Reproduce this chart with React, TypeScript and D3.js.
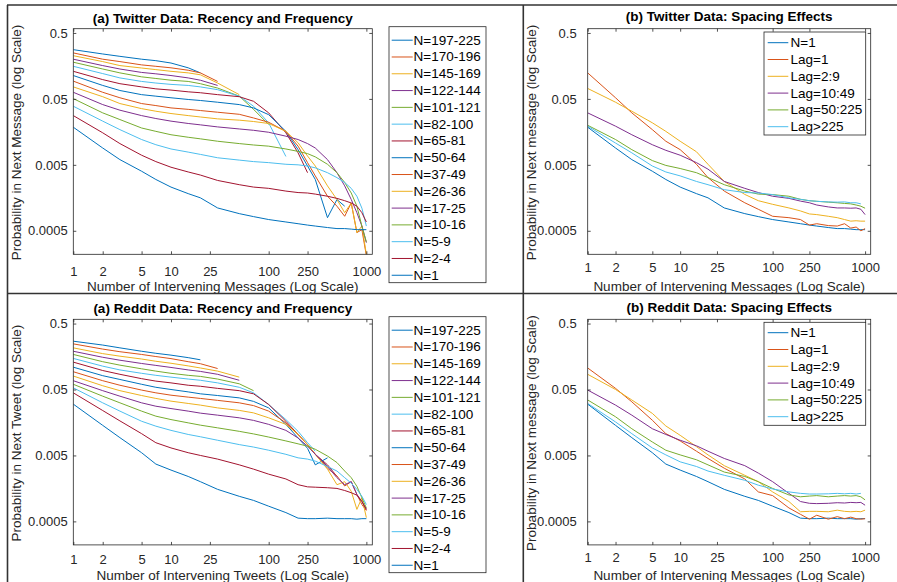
import React, { useRef, useEffect } from "react";
import * as d3 from "d3";

const FONT = "'Liberation Sans', Arial, Helvetica, sans-serif";
const W = 897;
const H = 582;

// x positions shared by every curve (number of intervening messages)
const xGrid = [1, 2, 3, 5, 7, 10, 15, 20, 30, 50, 70, 100, 150, 200, 250, 300, 400, 500, 600, 700, 800, 900, 1000];
const xTicks = [1, 2, 5, 10, 25, 100, 250, 1000];
const yTicks = [0.5, 0.05, 0.005, 0.0005];
const xDomain = [1, 1150];
const yDomain = [0.00022, 0.58];

const recencyLabels = [
  "N=197-225", "N=170-196", "N=145-169", "N=122-144", "N=101-121",
  "N=82-100", "N=65-81", "N=50-64", "N=37-49", "N=26-36",
  "N=17-25", "N=10-16", "N=5-9", "N=2-4", "N=1",
];
const spacingLabels = ["N=1", "Lag=1", "Lag=2:9", "Lag=10:49", "Lag=50:225", "Lag>225"];

// Twitter: recency and frequency (curves stop where the data stops)
const twN197 = [0.279, 0.24, 0.221, 0.2, 0.19, 0.175, 0.148, 0.124];
const twN170 = [0.249, 0.2, 0.184, 0.164, 0.156, 0.148, 0.136, 0.124, 0.092];
const twN145 = [0.226, 0.184, 0.16, 0.147, 0.139, 0.131, 0.124, 0.116, 0.087, 0.058];
const twN122 = [0.2, 0.16, 0.142, 0.126, 0.12, 0.113, 0.104, 0.096, 0.08];
const twN101 = [0.18, 0.142, 0.124, 0.108, 0.102, 0.096, 0.092, 0.085, 0.073, 0.055, 0.0347, 0.0204];
const twN82 = [0.156, 0.121, 0.104, 0.092, 0.087, 0.083, 0.08, 0.076, 0.069, 0.055, 0.0387, 0.0216, 0.0067];
const twN65 = [0.131, 0.098, 0.085, 0.076, 0.071, 0.068, 0.064, 0.062, 0.058, 0.054, 0.046, 0.0307, 0.0153, 0.0076, 0.0038];
const twN50 = [0.113, 0.08, 0.067, 0.058, 0.055, 0.052, 0.049, 0.0473, 0.0445, 0.041, 0.0365, 0.0288, 0.0161, 0.0085, 0.0048, 0.003, 0.00079, 0.00149, 0.00118];
const twN37 = [0.093, 0.063, 0.052, 0.0425, 0.0396, 0.0365, 0.0347, 0.0333, 0.0314, 0.0292, 0.0257, 0.0221, 0.0161, 0.0096, 0.0054, 0.0034, 0.00167, 0.00118, 0.00083, 0.00132, 0.00047, 0.00052, 0.00021];
const twN26 = [0.076, 0.054, 0.0425, 0.0356, 0.0325, 0.03, 0.0279, 0.0266, 0.0249, 0.0238, 0.0227, 0.0212, 0.0161, 0.0108, 0.0068, 0.0048, 0.0024, 0.00149, 0.00094, 0.00132, 0.00047, 0.00059, 0.00022];
const twN17 = [0.063, 0.041, 0.0337, 0.0279, 0.0252, 0.023, 0.0212, 0.0202, 0.0188, 0.0175, 0.0167, 0.0156, 0.0136, 0.0121, 0.0105, 0.009, 0.006, 0.0038, 0.0024, 0.00149, 0.00094, 0.00059, 0.00033];
const twN10 = [0.0505, 0.0307, 0.0243, 0.0181, 0.0161, 0.0143, 0.0131, 0.0124, 0.0114, 0.0105, 0.01, 0.0096, 0.0087, 0.008, 0.0074, 0.0066, 0.0051, 0.0038, 0.0027, 0.00187, 0.00118, 0.00059, 0.00034];
const twN5 = [0.0387, 0.023, 0.0171, 0.0121, 0.0101, 0.0087, 0.0078, 0.0072, 0.0064, 0.0059, 0.0056, 0.0054, 0.0051, 0.005, 0.0048, 0.0045, 0.0038, 0.0032, 0.0027, 0.0022, 0.00167, 0.0011, 0.00059];
const twN2 = [0.0279, 0.0153, 0.0105, 0.007, 0.0056, 0.0046, 0.0039, 0.0035, 0.0029, 0.0025, 0.0023, 0.0022, 0.002, 0.0019, 0.00187, 0.0018, 0.00167, 0.00155, 0.00143, 0.00132, 0.00118, 0.00094, 0.00068];
const twN1 = [0.0186, 0.009, 0.006, 0.004, 0.003, 0.0023, 0.00183, 0.00158, 0.00111, 0.00091, 0.00082, 0.00074, 0.00068, 0.00064, 0.00061, 0.00059, 0.00056, 0.00054, 0.00054, 0.00053, 0.00052, 0.00052, 0.00052];

// Reddit: recency and frequency
const rdN197 = [0.27, 0.236, 0.214, 0.19, 0.177, 0.166, 0.152, 0.141];
const rdN170 = [0.246, 0.205, 0.187, 0.17, 0.158, 0.147, 0.132, 0.123, 0.104];
const rdN145 = [0.214, 0.175, 0.16, 0.145, 0.134, 0.125, 0.114, 0.106, 0.095, 0.077];
const rdN122 = [0.19, 0.154, 0.139, 0.124, 0.116, 0.108, 0.099, 0.094, 0.085, 0.069];
const rdN101 = [0.17, 0.132, 0.117, 0.103, 0.095, 0.088, 0.082, 0.079, 0.072, 0.061, 0.048];
const rdN82 = [0.148, 0.113, 0.099, 0.088, 0.082, 0.077, 0.072, 0.069, 0.063, 0.054, 0.0445, 0.0296, 0.0175, 0.0116, 0.0078, 0.0058];
const rdN65 = [0.13, 0.097, 0.085, 0.073, 0.067, 0.063, 0.058, 0.056, 0.052, 0.048, 0.043, 0.0296, 0.0165, 0.0104, 0.0073, 0.0052, 0.0036, 0.0024];
const rdN50 = [0.109, 0.081, 0.071, 0.06, 0.054, 0.05, 0.046, 0.043, 0.0405, 0.0373, 0.033, 0.0263, 0.0148, 0.0092, 0.0064, 0.0036, 0.0046];
const rdN37 = [0.093, 0.068, 0.058, 0.049, 0.0445, 0.041, 0.0383, 0.0366, 0.0342, 0.0314, 0.0285, 0.0235, 0.0156, 0.0104, 0.0073, 0.0052, 0.0032, 0.00244, 0.00172, 0.002, 0.00128, 0.0009, 0.00073];
const rdN26 = [0.08, 0.057, 0.048, 0.0405, 0.0366, 0.0333, 0.0307, 0.029, 0.0263, 0.0241, 0.0221, 0.0186, 0.0148, 0.0104, 0.0073, 0.0052, 0.0031, 0.0018, 0.002, 0.00143, 0.00076, 0.00114, 0.00057];
const rdN17 = [0.068, 0.048, 0.0396, 0.0314, 0.0279, 0.0257, 0.0235, 0.0219, 0.0204, 0.0186, 0.017, 0.0148, 0.012, 0.0092, 0.0069, 0.0052, 0.0034, 0.0023, 0.0018, 0.002, 0.00128, 0.001, 0.00076];
const rdN10 = [0.06, 0.0396, 0.0314, 0.0235, 0.0197, 0.0175, 0.0156, 0.0144, 0.0131, 0.0116, 0.0106, 0.0095, 0.0083, 0.0075, 0.0069, 0.0062, 0.0049, 0.0039, 0.0029, 0.0023, 0.0017, 0.00114, 0.0008];
const rdN5 = [0.053, 0.0314, 0.0235, 0.0165, 0.0139, 0.012, 0.0104, 0.0096, 0.0085, 0.0073, 0.0067, 0.006, 0.0052, 0.0046, 0.0044, 0.0041, 0.0034, 0.0029, 0.0023, 0.0019, 0.00153, 0.0012, 0.0009];
const rdN2 = [0.0445, 0.024, 0.0167, 0.0107, 0.0078, 0.0065, 0.0055, 0.005, 0.0044, 0.0036, 0.0031, 0.0026, 0.0022, 0.0018, 0.00167, 0.00165, 0.00162, 0.00158, 0.00147, 0.00136, 0.00125, 0.001, 0.00076];
const rdN1 = [0.03, 0.0143, 0.0093, 0.0055, 0.0037, 0.003, 0.0024, 0.002, 0.00153, 0.0012, 0.00104, 0.00085, 0.00068, 0.00056, 0.00055, 0.00055, 0.00056, 0.00055, 0.00055, 0.00055, 0.00054, 0.00055, 0.00055];

// Twitter: spacing effects
const twLag1 = [0.124, 0.052, 0.0307, 0.0171, 0.0114, 0.0085, 0.0051, 0.0032, 0.002, 0.00133, 0.00106, 0.00083, 0.00079, 0.00074, 0.00061, 0.00064, 0.0006, 0.00059, 0.00064, 0.00055, 0.00057, 0.0005, 0.00054];
const twLag2 = [0.072, 0.0445, 0.0325, 0.0217, 0.0161, 0.0114, 0.0079, 0.0051, 0.0028, 0.00178, 0.00143, 0.00126, 0.00111, 0.001, 0.0009, 0.00088, 0.00083, 0.00079, 0.00074, 0.0007, 0.00071, 0.0007, 0.0007];
const twLag10 = [0.0307, 0.0193, 0.0143, 0.0101, 0.0083, 0.007, 0.0054, 0.0043, 0.0028, 0.0022, 0.0019, 0.00167, 0.00155, 0.00141, 0.00133, 0.00123, 0.00115, 0.00111, 0.00111, 0.0011, 0.00111, 0.00106, 0.00088];
const twLag50 = [0.0199, 0.0121, 0.0085, 0.0058, 0.0049, 0.0044, 0.0038, 0.0032, 0.0025, 0.002, 0.0018, 0.00177, 0.00167, 0.0015, 0.00143, 0.0014, 0.00136, 0.00133, 0.0013, 0.00128, 0.00123, 0.00118, 0.0011];
const twLag225 = [0.0193, 0.0107, 0.0076, 0.0048, 0.0039, 0.0034, 0.0028, 0.0025, 0.0021, 0.0019, 0.00187, 0.00177, 0.00158, 0.0015, 0.00143, 0.0014, 0.00137, 0.00136, 0.00137, 0.00133, 0.00133, 0.00128];

// Reddit: spacing effects
const rdLag1 = [0.106, 0.052, 0.0325, 0.0171, 0.0107, 0.0083, 0.0058, 0.0045, 0.0032, 0.0022, 0.0014, 0.00123, 0.0008, 0.00064, 0.00054, 0.00062, 0.00054, 0.00059, 0.00055, 0.00058, 0.00055, 0.00054, 0.00055];
const rdLag2 = [0.085, 0.05, 0.0347, 0.0217, 0.014, 0.0101, 0.0068, 0.0051, 0.0035, 0.0025, 0.002, 0.0014, 0.001, 0.0007, 0.00071, 0.00071, 0.0007, 0.00074, 0.00071, 0.0007, 0.00071, 0.0007, 0.00074];
const rdLag10 = [0.049, 0.029, 0.0204, 0.0127, 0.0104, 0.0085, 0.007, 0.0058, 0.0045, 0.0035, 0.0027, 0.002, 0.00133, 0.001, 0.00094, 0.00093, 0.00094, 0.00096, 0.00095, 0.00097, 0.00096, 0.00097, 0.00088];
const rdLag50 = [0.0347, 0.0193, 0.0127, 0.008, 0.006, 0.0051, 0.0043, 0.0036, 0.0028, 0.0024, 0.002, 0.00158, 0.00126, 0.00118, 0.00121, 0.00123, 0.00118, 0.00121, 0.00123, 0.00121, 0.00123, 0.00118, 0.00106];
const rdLag225 = [0.0307, 0.0161, 0.0107, 0.0065, 0.0051, 0.004, 0.0034, 0.0029, 0.0025, 0.0021, 0.00177, 0.00155, 0.0014, 0.00133, 0.0013, 0.0013, 0.00131, 0.00133, 0.00131, 0.00133, 0.0013, 0.00133];

const twitterRecency = [twN197, twN170, twN145, twN122, twN101, twN82, twN65, twN50, twN37, twN26, twN17, twN10, twN5, twN2, twN1];
const redditRecency = [rdN197, rdN170, rdN145, rdN122, rdN101, rdN82, rdN65, rdN50, rdN37, rdN26, rdN17, rdN10, rdN5, rdN2, rdN1];
const twitterSpacing = [twN1, twLag1, twLag2, twLag10, twLag50, twLag225];
const redditSpacing = [rdN1, rdLag1, rdLag2, rdLag10, rdLag50, rdLag225];

// matlab default line colours
const colors = ["#0072BD", "#D95319", "#EDB120", "#7E2F8E", "#77AC30", "#4DBEEE", "#A2142F"];

const recencyLegend = { x: 389, w: 97, h: 256, step: 16.79, l0: 391.7, l1: 412.7, tx: 413.5 };
const spacingLegend = { x: 764, w: 101.7, h: 103, step: 16.8, l0: 767.7, l1: 788.3, tx: 790.5 };

export default function App() {
  const ref = useRef<SVGSVGElement>(null);

  useEffect(() => {
    const svg = d3.select(ref.current);
    svg.selectAll("*").remove();
    svg.append("rect").attr("width", W).attr("height", H).attr("fill", "white");
    const defs = svg.append("defs");
    // the upper figures get cut off by the frame line under them
    defs.append("clipPath").attr("id", "top-half")
      .append("rect").attr("x", 0).attr("y", 0).attr("width", W).attr("height", 293);

    const panels = [
      {
        id: "tl", x0: 73.3, x1: 372.3, y0: 28.7, y1: 254.3, clipTop: true,
        title: "(a) Twitter Data: Recency and Frequency", titleY: 18,
        yLabel: "Probability in Next Message (log Scale)", yLabelX: 16,
        xLabel: "Number of Intervening Messages (Log Scale)", xLabelY: 286.5,
        xPad: 12.9, yPad: 5.6, series: twitterRecency, labels: recencyLabels,
        legend: { ...recencyLegend, y: 26.7, first: 40.2 },
      },
      {
        id: "tr", x0: 587.7, x1: 870.7, y0: 28.7, y1: 254.3, clipTop: true,
        title: "(b) Twitter Data: Spacing Effects", titleY: 16.7,
        yLabel: "Probability in Next message (log Scale)", yLabelX: 531.7,
        xLabel: "Number of Intervening Messages (Log Scale)", xLabelY: 286,
        xPad: 8, yPad: 11, series: twitterSpacing, labels: spacingLabels,
        legend: { ...spacingLegend, y: 32, first: 42.7 },
      },
      {
        id: "bl", x0: 73.3, x1: 372.3, y0: 319.3, y1: 544.9, clipTop: false,
        title: "(a) Reddit Data: Recency and Frequency", titleY: 308.3,
        yLabel: "Probability in Next Tweet (log Scale)", yLabelX: 16,
        xLabel: "Number of Intervening Tweets (Log Scale)", xLabelY: 575.5,
        xPad: 9.5, yPad: 5.6, series: redditRecency, labels: recencyLabels,
        legend: { ...recencyLegend, y: 316.7, first: 330.2 },
      },
      {
        id: "br", x0: 587.7, x1: 870.7, y0: 319.3, y1: 544.9, clipTop: false,
        title: "(b) Reddit Data: Spacing Effects", titleY: 307.3,
        yLabel: "Probability in Next message (log Scale)", yLabelX: 531.7,
        xLabel: "Number of Intervening Messages (Log Scale)", xLabelY: 575.5,
        xPad: 8, yPad: 11, series: redditSpacing, labels: spacingLabels,
        legend: { ...spacingLegend, y: 322.3, first: 332.7 },
      },
    ];

    panels.forEach((p) => {
      const g = svg.append("g")
        .attr("font-family", FONT)
        .attr("clip-path", p.clipTop ? "url(#top-half)" : null);

      const x = d3.scaleLog().domain(xDomain).range([p.x0, p.x1]);
      const y = d3.scaleLog().domain(yDomain).range([p.y1, p.y0]);

      defs.append("clipPath").attr("id", `plot-${p.id}`)
        .append("rect")
        .attr("x", p.x0).attr("y", p.y0)
        .attr("width", p.x1 - p.x0).attr("height", p.y1 - p.y0);

      // curves
      const line = d3.line<number>()
        .x((_, i) => x(xGrid[i]))
        .y((d) => y(d));

      g.append("g")
        .attr("clip-path", `url(#plot-${p.id})`)
        .selectAll("path")
        .data(p.series)
        .join("path")
        .attr("d", (d) => line(d))
        .attr("fill", "none")
        .attr("stroke", (_, i) => colors[i % 7])
        .attr("stroke-width", 1);

      // axes box
      g.append("rect")
        .attr("x", p.x0).attr("y", p.y0)
        .attr("width", p.x1 - p.x0).attr("height", p.y1 - p.y0)
        .attr("fill", "none")
        .attr("stroke", "#262626")
        .attr("stroke-width", 0.8);

      const styleAxis = (a: any, size: number) => {
        a.select(".domain").remove();
        a.attr("font-size", size).attr("font-family", FONT);
        a.selectAll("line").attr("stroke", "#262626").attr("stroke-width", 0.8);
        a.selectAll("text").attr("fill", "#262626");
      };

      g.append("g")
        .attr("transform", `translate(0,${p.y1})`)
        .call(d3.axisBottom(x).tickValues(xTicks).tickFormat(d3.format("d") as any)
          .tickSizeInner(-3).tickSizeOuter(0).tickPadding(p.xPad))
        .call((a) => styleAxis(a, 13));

      g.append("g")
        .attr("transform", `translate(0,${p.y0})`)
        .call(d3.axisTop(x).tickValues(xTicks).tickFormat(() => "")
          .tickSizeInner(-3).tickSizeOuter(0))
        .call((a) => styleAxis(a, 13));

      g.append("g")
        .attr("transform", `translate(${p.x0},0)`)
        .call(d3.axisLeft(y).tickValues(yTicks).tickFormat((d) => String(d))
          .tickSizeInner(-3).tickSizeOuter(0).tickPadding(p.yPad))
        .call((a) => styleAxis(a, 13));

      g.append("g")
        .attr("transform", `translate(${p.x1},0)`)
        .call(d3.axisRight(y).tickValues(yTicks).tickFormat(() => "")
          .tickSizeInner(-3).tickSizeOuter(0))
        .call((a) => styleAxis(a, 13));

      // title and axis labels
      const cx = (p.x0 + p.x1) / 2;
      const cy = (p.y0 + p.y1) / 2 + 1;
      g.append("text")
        .attr("x", cx).attr("y", p.titleY)
        .attr("text-anchor", "middle").attr("dominant-baseline", "central")
        .attr("font-size", 13.5).attr("font-weight", "bold").attr("fill", "#000")
        .text(p.title);
      g.append("text")
        .attr("x", cx).attr("y", p.xLabelY)
        .attr("text-anchor", "middle").attr("dominant-baseline", "central")
        .attr("font-size", 13.5).attr("fill", "#262626")
        .text(p.xLabel);
      g.append("text")
        .attr("transform", `translate(${p.yLabelX},${cy}) rotate(-90)`)
        .attr("text-anchor", "middle").attr("dominant-baseline", "central")
        .attr("font-size", 13.5).attr("fill", "#262626")
        .text(p.yLabel);

      // legend
      const L = p.legend;
      const lg = g.append("g");
      lg.append("rect")
        .attr("x", L.x).attr("y", L.y).attr("width", L.w).attr("height", L.h)
        .attr("fill", "white")
        .attr("stroke", "#262626").attr("stroke-width", 0.8);
      const entries = lg.selectAll("g.entry")
        .data(p.labels.map((label, i) => ({ label, color: colors[i % 7] })))
        .join("g")
        .attr("class", "entry")
        .attr("transform", (_, i) => `translate(0,${L.first + i * L.step})`);
      entries.append("line")
        .attr("x1", L.l0).attr("x2", L.l1)
        .attr("stroke", (d) => d.color).attr("stroke-width", 1);
      entries.append("text")
        .attr("x", L.tx).attr("dominant-baseline", "central")
        .attr("font-size", 13.5).attr("fill", "#000")
        .text((d) => d.label);
    });

    // frame lines between the four figures
    const frame = [
      [7, 5, W, 5],
      [7.5, 5, 7.5, H],
      [523.3, 5, 523.3, H],
      [7, 293.5, W, 293.5],
    ];
    svg.append("g")
      .selectAll("line")
      .data(frame)
      .join("line")
      .attr("x1", (d) => d[0]).attr("y1", (d) => d[1])
      .attr("x2", (d) => d[2]).attr("y2", (d) => d[3])
      .attr("stroke", "#333")
      .attr("stroke-width", 1.6);
  }, []);

  return (
    <svg
      ref={ref}
      width={W}
      height={H}
      style={{ position: "absolute", left: 0, top: 0 }}
    />
  );
}
